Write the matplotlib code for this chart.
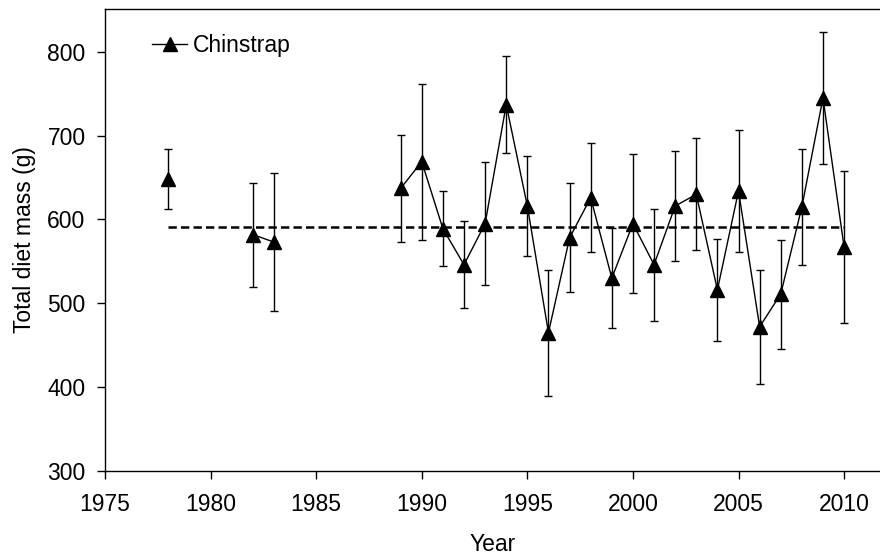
import numpy as np
import matplotlib
matplotlib.use("Agg")
import matplotlib.pyplot as plt

plt.rcParams['font.family'] = ['Liberation Sans', 'DejaVu Sans']
plt.rcParams['lines.scale_dashes'] = False

years = [1978, 1982, 1983, 1989, 1990, 1991, 1992, 1993, 1994, 1995, 1996, 1997,
         1998, 1999, 2000, 2001, 2002, 2003, 2004, 2005, 2006, 2007, 2008, 2009, 2010]
mass = [648, 582, 573, 637, 669, 589, 546, 595, 737, 616, 465, 578,
        626, 530, 595, 546, 616, 630, 516, 634, 472, 511, 615, 745, 567]
err = [36, 62, 82, 64, 93, 45, 52, 73, 58, 60, 75, 65,
       65, 60, 83, 67, 66, 67, 61, 73, 68, 65, 69, 79, 91]
mean_mass = 591
series_label = "Chinstrap"
x_ticks = [1975, 1980, 1985, 1990, 1995, 2000, 2005, 2010]
y_ticks = [300, 400, 500, 600, 700, 800]

fig = plt.figure(figsize=(8.8, 5.58), dpi=100)
ax = fig.add_axes([105/880, 87/558, 1 - 105/880, (471 - 9)/558])

yrs = np.array(years)
m = np.array(mass, dtype=float)
# break the line where years are not consecutive
breaks = np.where(np.diff(yrs) > 1)[0] + 1
segments = np.split(np.arange(len(yrs)), breaks)
for k, seg in enumerate(segments):
    ax.plot(yrs[seg], m[seg], color='black', lw=1.0, marker='^', ms=10,
            markerfacecolor='black', markeredgecolor='black', zorder=3,
            label=series_label if k == 0 else None)

ax.errorbar(yrs, m, yerr=err, fmt='none', ecolor='black', elinewidth=1.0,
            capsize=3, capthick=1.0, zorder=2)

ax.plot([yrs.min(), yrs.max()], [mean_mass, mean_mass], color='black', lw=1.8,
        dashes=(6, 3), zorder=1)

ax.set_xlim(1975, 2011.7)
ax.set_ylim(300, 851)
ax.set_xticks(x_ticks)
ax.set_yticks(y_ticks)
ax.spines['right'].set_visible(False)
for s in ['left', 'bottom', 'top']:
    ax.spines[s].set_linewidth(1.0)
ax.tick_params(direction='out', length=6, width=1.0, labelsize=16.5)
ax.tick_params(axis='x', pad=10)
ax.tick_params(axis='y', pad=8)
ax.tick_params(top=False, right=False)

ax.set_xlabel("Year", fontsize=16.5, labelpad=12)
ax.set_ylabel("Total diet mass (g)", fontsize=16.5, labelpad=8)

ax.legend(loc='upper left', frameon=False, fontsize=16.5, handlelength=1.53,
          handletextpad=0.27, borderaxespad=0.3, bbox_to_anchor=(0.04, 0.98))

fig.savefig("out.png", dpi=100)
